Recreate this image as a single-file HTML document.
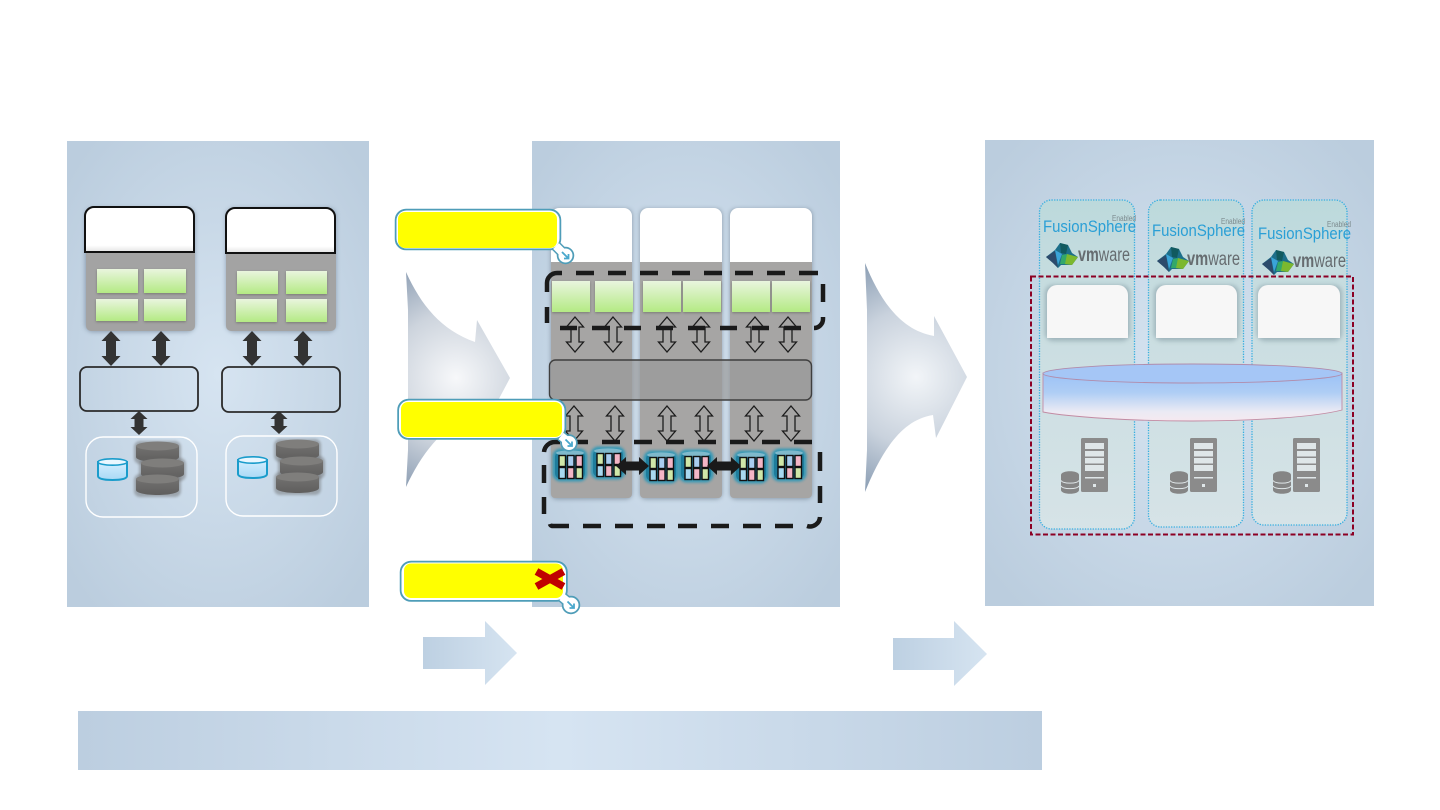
<!DOCTYPE html>
<html><head><meta charset="utf-8"><title>Diagram</title>
<style>html,body{margin:0;padding:0;background:#fff}svg{display:block}text{font-family:"Liberation Sans",sans-serif}</style>
</head><body>
<svg xmlns="http://www.w3.org/2000/svg" width="1440" height="810" viewBox="0 0 1440 810">
<defs>
<radialGradient id="pg" cx="50%" cy="50%" r="65%"><stop offset="0" stop-color="#d6e4f1"/><stop offset="1" stop-color="#bbcdde"/></radialGradient>
<radialGradient id="ba" gradientUnits="userSpaceOnUse" cx="456" cy="378" r="120"><stop offset="0" stop-color="#f7f8fa"/><stop offset=".55" stop-color="#cdd4dd"/><stop offset="1" stop-color="#8e9fb4"/></radialGradient>
<radialGradient id="bb" gradientUnits="userSpaceOnUse" cx="916" cy="377" r="125"><stop offset="0" stop-color="#f2f5f8"/><stop offset=".55" stop-color="#c9d2dd"/><stop offset="1" stop-color="#8a9db3"/></radialGradient>
<linearGradient id="sa" x1="0" x2="1" y1="0" y2="0"><stop offset="0" stop-color="#bdd0e2"/><stop offset="1" stop-color="#d6e4f1"/></linearGradient>
<linearGradient id="bar" x1="0" x2="1" y1="0" y2="0"><stop offset="0" stop-color="#bccee0"/><stop offset=".5" stop-color="#d6e4f2"/><stop offset="1" stop-color="#bccee0"/></linearGradient>
<linearGradient id="gc" x1="0" x2="0" y1="0" y2="1"><stop offset="0" stop-color="#e9f5de"/><stop offset="1" stop-color="#b4ea84"/></linearGradient>
<linearGradient id="wt" x1="0" x2="0" y1="0" y2="1"><stop offset="0" stop-color="#fff"/><stop offset=".85" stop-color="#fff"/><stop offset="1" stop-color="#e4e4e4"/></linearGradient>
<linearGradient id="cg" x1="0" x2="0" y1="0" y2="1"><stop offset="0" stop-color="#9cc2f6"/><stop offset=".4" stop-color="#aecdf5"/><stop offset=".8" stop-color="#eaeaf4"/><stop offset="1" stop-color="#f6e9f0"/></linearGradient>
<linearGradient id="col" x1="0" x2="0" y1="0" y2="1"><stop offset="0" stop-color="#bcd9dc"/><stop offset=".3" stop-color="#c8dde0"/><stop offset="1" stop-color="#d6e3e7"/></linearGradient>
<linearGradient id="dc" x1="0" x2="0" y1="0" y2="1"><stop offset="0" stop-color="#727170"/><stop offset="1" stop-color="#5f5e5d"/></linearGradient>
<linearGradient id="bc" x1="0" x2="0" y1="0" y2="1"><stop offset="0" stop-color="#d4eeff"/><stop offset="1" stop-color="#a9d9f5"/></linearGradient>
<filter id="sh" x="-20%" y="-20%" width="140%" height="140%"><feGaussianBlur stdDeviation="2.5"/></filter>
<filter id="s1" x="-20%" y="-20%" width="140%" height="140%"><feGaussianBlur stdDeviation="1.400"/></filter>

<g id="dcyl">
 <rect x="-2" y="0" width="47" height="23" rx="6" fill="#666" opacity=".45" filter="url(#s1)"/>
 <path d="M0 5V16C0 19 10 21 21.500 21S43 19 43 16V5Z" fill="url(#dc)"/>
 <ellipse cx="21.500" cy="5" rx="21.500" ry="4.500" fill="#7f7e7c"/>
</g>
<g id="bcyl">
 <path d="M1 4V18C1 21 8 22 15.500 22S30 21 30 18V4Z" fill="url(#bc)" stroke="#1a9ccb" stroke-width="2"/>
 <ellipse cx="15.500" cy="4" rx="14.500" ry="3.200" fill="#e9f7ff" stroke="#1a9ccb" stroke-width="1.600"/>
</g>
<path id="oa" d="M0 0L8.500 10H4V25H8.500L0 35L-8.500 25H-4V10H-8.500Z" fill="none" stroke="#1c1c1c" stroke-width="1.300"/>
<g id="st">
 <rect x="-1.500" y="-1.500" width="35" height="33" rx="8" fill="#1a96ba" opacity=".8" filter="url(#s1)"/>
 <rect x="1" y="1" width="30" height="28" rx="6" fill="#1f7d9c"/>
 <ellipse cx="16" cy="3" rx="14" ry="2.600" fill="#7fb9cc"/>
 <g stroke="#111" stroke-width="1.400">
 <rect x="5" y="5.500" width="6.500" height="11" fill="#cfe7a8"/><rect x="13.500" y="5.500" width="6.500" height="11" fill="#a9cdf0"/><rect x="22" y="5.500" width="6.500" height="11" fill="#f3b6c6"/>
 <rect x="5" y="17.500" width="6.500" height="11" fill="#a8d8f0"/><rect x="13.500" y="17.500" width="6.500" height="11" fill="#f3b6c6"/><rect x="22" y="17.500" width="6.500" height="11" fill="#cfe7a8"/>
 </g>
</g>
<path id="cga" d="M-3.500 -3.500L3 3M3 -1.500V3H-1.500" fill="none" stroke="#4aa8cc" stroke-width="1.800"/>
<g id="srv">
 <rect x="20" y="0" width="27" height="54" rx="1.500" fill="#8b8b8b"/>
 <g fill="#dfe6e8"><rect x="24" y="5" width="19" height="6"/><rect x="24" y="13" width="19" height="5.500"/><rect x="24" y="20" width="19" height="5.500"/><rect x="24" y="27" width="19" height="6"/><rect x="24" y="39" width="19" height="1.500"/><rect x="32" y="46" width="3" height="3"/></g>
 <path d="M0 37c0-5 18-5 18 0v15c0 5-18 5-18 0z" fill="#858585"/>
 <path d="M0 42.500c2 3.500 16 3.500 18 0M0 48c2 3.500 16 3.500 18 0" fill="none" stroke="#dfe6e8" stroke-width="1"/>
</g>
<g id="vm">
 <path d="M0 14L9 7L14 0L22 2L26 10L32 14L26 22L15 22L12 25L7 20Z" fill="#1d6f8a"/>
 <path d="M0 14L9 8L12 25L7 20Z" fill="#2c4a6b"/>
 <path d="M9 7L16 11L12 22Z" fill="#3aa4d8"/>
 <path d="M21 11L32 14L26 22L18 21Z" fill="#7cb82f"/>
 <path d="M14 0L22 2L20 11L15 10Z" fill="#115a5f"/>
 <path d="M16 12L21 11L19 21L14 21Z" fill="#32a86a"/>
</g>
</defs>

<!-- panels -->
<rect x="67" y="141" width="302" height="466" fill="url(#pg)"/>
<rect x="532" y="141" width="308" height="466" fill="url(#pg)"/>
<rect x="985" y="140" width="389" height="466" fill="url(#pg)"/>

<!-- big arrows -->
<path d="M406 272C421 305 441 330 475 342L477 320L510 378L477 440L474 414C441 427 421 455 406 487L408 450V310Z" fill="url(#ba)"/>
<path d="M865 263C880 300 900 330 934 336L934 316L967 377L936 438L933 415C900 420 880 455 865 492L867 450V310Z" fill="url(#bb)"/>

<!-- small arrows and bar -->
<path d="M423 637H485V621L517 653L485 685V669H423Z" fill="url(#sa)"/>
<path d="M893 638H954V621L987 654L954 686V670H893Z" fill="url(#sa)"/>
<rect x="78" y="711" width="964" height="59" fill="url(#bar)"/>

<!-- panel 1 stacks -->
<rect x="85" y="208" width="110" height="124" rx="8" fill="#66788c" opacity=".6" filter="url(#sh)"/>
<rect x="226" y="208" width="110" height="124" rx="8" fill="#66788c" opacity=".6" filter="url(#sh)"/>
<path d="M86 252H195V326a5 5 0 0 1-5 5H91a5 5 0 0 1-5-5Z" fill="#a3a3a3"/>
<path d="M226 253H336V326a5 5 0 0 1-5 5H231a5 5 0 0 1-5-5Z" fill="#a3a3a3"/>
<path d="M85 252V216a9 9 0 0 1 9-9H185a9 9 0 0 1 9 9V252Z" fill="url(#wt)" stroke="#111" stroke-width="2"/>
<path d="M226 253V217a9 9 0 0 1 9-9H326a9 9 0 0 1 9 9V253Z" fill="url(#wt)" stroke="#111" stroke-width="2"/>
<g fill="#6e7068" opacity=".8" filter="url(#s1)">
 <rect x="97" y="270" width="41" height="24"/><rect x="144" y="270" width="42" height="24"/><rect x="96" y="300" width="42" height="22"/><rect x="144" y="300" width="42" height="22"/>
 <rect x="237" y="272" width="41" height="23"/><rect x="286" y="272" width="41" height="23"/><rect x="236" y="300" width="41" height="23"/><rect x="286" y="300" width="41" height="23"/>
</g>
<g fill="url(#gc)">
 <rect x="97" y="269" width="41" height="24"/><rect x="144" y="269" width="42" height="24"/><rect x="96" y="299" width="42" height="22"/><rect x="144" y="299" width="42" height="22"/>
 <rect x="237" y="271" width="41" height="23"/><rect x="286" y="271" width="41" height="23"/><rect x="236" y="299" width="41" height="23"/><rect x="286" y="299" width="41" height="23"/>
</g>
<g fill="#333">
 <path d="M111 331L120.500 341H116V356H120.500L111 366L101.500 356H106V341H101.500Z"/>
 <path d="M161 331L170.500 341H166V356H170.500L161 366L151.500 356H156V341H151.500Z"/>
 <path d="M252 331L261.500 341H257V356H261.500L252 366L242.500 356H247V341H242.500Z"/>
 <path d="M303 331L312.500 341H308V356H312.500L303 366L293.500 356H298V341H293.500Z"/>
 <path d="M139 411L147.500 419H143.500V427H147.500L139 435L130.500 427H134.500V419H130.500Z"/>
 <path d="M279 411L287.500 419H283.500V426H287.500L279 434L270.500 426H274.500V419H270.500Z"/>
</g>
<rect x="80" y="367" width="118" height="44" rx="7" fill="none" stroke="#2b2b2b" stroke-width="1.800"/>
<rect x="222" y="367" width="118" height="45" rx="7" fill="none" stroke="#2b2b2b" stroke-width="1.800"/>
<rect x="86" y="437" width="111" height="80" rx="17" fill="none" stroke="#fff" stroke-width="1.400"/>
<rect x="226" y="436" width="111" height="80" rx="17" fill="none" stroke="#fff" stroke-width="1.400"/>
<use href="#dcyl" x="136" y="441"/><use href="#dcyl" x="141" y="458"/><use href="#dcyl" x="136" y="474"/>
<use href="#dcyl" x="276" y="439"/><use href="#dcyl" x="280" y="456"/><use href="#dcyl" x="276" y="472"/>
<use href="#bcyl" x="97" y="458"/><use href="#bcyl" x="237" y="456"/>

<!-- panel 2 columns -->
<g>
 <rect x="551" y="209" width="81" height="290" rx="6" fill="#5f6f80" opacity=".6" filter="url(#sh)"/>
 <rect x="640" y="209" width="82" height="290" rx="6" fill="#5f6f80" opacity=".6" filter="url(#sh)"/>
 <rect x="730" y="209" width="82" height="290" rx="6" fill="#5f6f80" opacity=".6" filter="url(#sh)"/>
 <path d="M551 262H632V494a4 4 0 0 1-4 4H555a4 4 0 0 1-4-4Z" fill="#a6a5a4"/>
 <path d="M640 262H722V494a4 4 0 0 1-4 4H644a4 4 0 0 1-4-4Z" fill="#a6a5a4"/>
 <path d="M730 262H812V494a4 4 0 0 1-4 4H734a4 4 0 0 1-4-4Z" fill="#a6a5a4"/>
 <path d="M551 262V216a8 8 0 0 1 8-8H624a8 8 0 0 1 8 8V262Z" fill="#fff"/>
 <path d="M640 262V216a8 8 0 0 1 8-8H714a8 8 0 0 1 8 8V262Z" fill="#fff"/>
 <path d="M730 262V216a8 8 0 0 1 8-8H804a8 8 0 0 1 8 8V262Z" fill="#fff"/>
</g>
<g fill="#6e7068" opacity=".8" filter="url(#s1)">
 <rect x="552" y="282" width="38" height="31"/><rect x="595" y="282" width="38" height="31"/>
 <rect x="643" y="282" width="38" height="31"/><rect x="683" y="282" width="38" height="31"/>
 <rect x="732" y="282" width="38" height="31"/><rect x="772" y="282" width="38" height="31"/>
</g>
<g fill="url(#gc)">
 <rect x="552" y="281" width="38" height="31"/><rect x="595" y="281" width="38" height="31"/>
 <rect x="643" y="281" width="38" height="31"/><rect x="683" y="281" width="38" height="31"/>
 <rect x="732" y="281" width="38" height="31"/><rect x="772" y="281" width="38" height="31"/>
</g>
<rect x="549.500" y="360" width="262" height="40" rx="6" fill="#9a9a9a" fill-opacity=".7" stroke="#3f3f3f" stroke-width="1.400"/>
<use href="#oa" x="575" y="317"/><use href="#oa" x="613" y="317"/><use href="#oa" x="667" y="317"/><use href="#oa" x="701" y="317"/><use href="#oa" x="755" y="317"/><use href="#oa" x="788" y="317"/>
<use href="#oa" x="574" y="406"/><use href="#oa" x="615" y="406"/><use href="#oa" x="667" y="406"/><use href="#oa" x="704" y="406"/><use href="#oa" x="754" y="406"/><use href="#oa" x="791" y="406"/>

<!-- storage -->
<use href="#st" x="554" y="450"/><use href="#st" x="592" y="448"/><use href="#st" x="645" y="452"/><use href="#st" x="680" y="451"/><use href="#st" x="735" y="452"/><use href="#st" x="773" y="450"/>
<g fill="#1a1a1a">
 <path d="M616 466L626 457V461.500H639V457L649 466L639 475V470.500H626V475Z"/>
 <path d="M707 466L717 457V461.500H731V457L741 466L731 475V470.500H717V475Z"/>
</g>

<!-- dashed groups -->
<g fill="none" stroke="#1a1a1a" stroke-width="4.500">
 <path d="M547 323V307M547 292V283a10 10 0 0 1 10-10H562M576 273H594M608 273H626M640 273H658M672 273H690M704 273H722M735 273H753M767 273H785M799 273H818M823 284V302M823 317V319a9 9 0 0 1-9 9M801 328H784M769 328H752M737 328H720M705 328H688M673 328H656M641 328H624M610 328H592M577 328H560"/>
 <path d="M544 452a11 11 0 0 1 11-10H560M570 442H588M602 442H620M634 442H652M666 442H684M698 442H716M730 442H748M762 442H780M794 442H812M820 452V471M820 486V503M820 517a10 10 0 0 1-13 9M793 526H775M761 526H743M729 526H711M697 526H678M665 526H647M633 526H615M601 526H583M569 526H552a3 3 0 0 1-2-2M544 514V497M544 483V465"/>
</g>

<!-- callouts -->
<g fill="none" stroke="#4f9db8" stroke-width="2.500">
 <circle cx="565.500" cy="255.500" r="7.500"/><rect x="396" y="210" width="164" height="39" rx="10"/>
 <path d="M556 246L562 252" stroke-width="11"/>
 <circle cx="569" cy="443" r="7.500"/><rect x="398.500" y="400" width="166.500" height="38.500" rx="10"/>
 <path d="M561 436L566 440" stroke-width="11"/>
 <circle cx="571" cy="605" r="8"/><rect x="401" y="562" width="165.500" height="38.500" rx="10"/>
 <path d="M562 597L568 602" stroke-width="11"/>
</g>
<g fill="#fff">
 <circle cx="565.500" cy="255.500" r="7"/><rect x="396.500" y="210.500" width="163" height="38" rx="10"/>
 <circle cx="569" cy="443" r="7"/><rect x="399" y="400.500" width="165.500" height="37.500" rx="10"/>
 <circle cx="571" cy="605" r="7.500"/><rect x="401.500" y="562.500" width="164.500" height="37.500" rx="10"/>
</g>
<path d="M556 246L562 252M561 436L566 440M562 597L568 602" stroke="#fff" stroke-width="8" fill="none"/>
<rect x="398" y="212" width="159" height="36" rx="7" fill="#ffff00"/>
<rect x="401" y="402" width="161" height="35" rx="7" fill="#ffff00"/>
<rect x="404" y="563.500" width="159" height="34.500" rx="7" fill="#ffff00"/>
<use href="#cga" x="565.500" y="255.500"/><use href="#cga" x="569" y="443"/><use href="#cga" x="571" y="605"/>
<path d="M536.500 571.500L563.500 586.500M563.500 571.500L536.500 586.500" stroke="#c00000" stroke-width="7.500" fill="none"/>

<!-- panel 3 columns -->
<g fill="url(#col)" stroke="#35aee0" stroke-width="1.300" stroke-dasharray="1.300 1.300">
 <rect x="1039.500" y="200" width="95" height="329" rx="12"/>
 <rect x="1148.500" y="200" width="95" height="327" rx="12"/>
 <rect x="1252" y="200" width="95" height="325" rx="12"/>
</g>

<g font-size="17" fill="#2a9fd6">
 <text x="1043" y="232" textLength="93" lengthAdjust="spacingAndGlyphs">FusionSphere</text>
 <text x="1152" y="236" textLength="93" lengthAdjust="spacingAndGlyphs">FusionSphere</text>
 <text x="1258" y="239" textLength="93" lengthAdjust="spacingAndGlyphs">FusionSphere</text>
</g>
<g font-size="8" fill="#7c8a8e">
 <text x="1112" y="221" textLength="24" lengthAdjust="spacingAndGlyphs">Enabled</text>
 <text x="1221" y="224" textLength="24" lengthAdjust="spacingAndGlyphs">Enabled</text>
 <text x="1327" y="227" textLength="24" lengthAdjust="spacingAndGlyphs">Enabled</text>
</g>
<g font-size="19" fill="#666c70">
 <text x="1078" y="261" textLength="52" lengthAdjust="spacingAndGlyphs"><tspan font-weight="bold">vm</tspan>ware</text>
 <text x="1187" y="265" textLength="53" lengthAdjust="spacingAndGlyphs"><tspan font-weight="bold">vm</tspan>ware</text>
 <text x="1293" y="267" textLength="53" lengthAdjust="spacingAndGlyphs"><tspan font-weight="bold">vm</tspan>ware</text>
</g>
<use href="#vm" x="1046" y="243"/><use href="#vm" x="1157" y="247"/><use href="#vm" x="1262" y="250"/>

<rect x="1045" y="285" width="85" height="56" rx="8" fill="#8fa5ad" opacity=".75" filter="url(#sh)"/>
<rect x="1154" y="285" width="85" height="56" rx="8" fill="#8fa5ad" opacity=".75" filter="url(#sh)"/>
<rect x="1257" y="285" width="85" height="56" rx="8" fill="#8fa5ad" opacity=".75" filter="url(#sh)"/>
<g fill="#f7f7f7">
 <path d="M1047 338V295a10 10 0 0 1 10-10H1118a10 10 0 0 1 10 10V338Z"/>
 <path d="M1156 338V295a10 10 0 0 1 10-10H1227a10 10 0 0 1 10 10V338Z"/>
 <path d="M1258 338V295a10 10 0 0 1 10-10H1330a10 10 0 0 1 10 10V338Z"/>
</g>

<!-- big cylinder -->
<path d="M1043 373V412C1070 417 1130 421 1192 421S1315 417 1342 410V373Z" fill="url(#cg)" stroke="#c28ba3" stroke-width=".9"/>
<ellipse cx="1192.500" cy="373.500" rx="149.500" ry="9.500" fill="#a5c6f6" stroke="#b18cab" stroke-width=".9"/>

<use href="#srv" x="1061" y="438"/><use href="#srv" x="1170" y="438"/><use href="#srv" x="1273" y="438"/>

<rect x="1031" y="276.500" width="322" height="258" fill="none" stroke="#8c0024" stroke-width="2" stroke-dasharray="5 2.500"/>
</svg>
</body></html>
